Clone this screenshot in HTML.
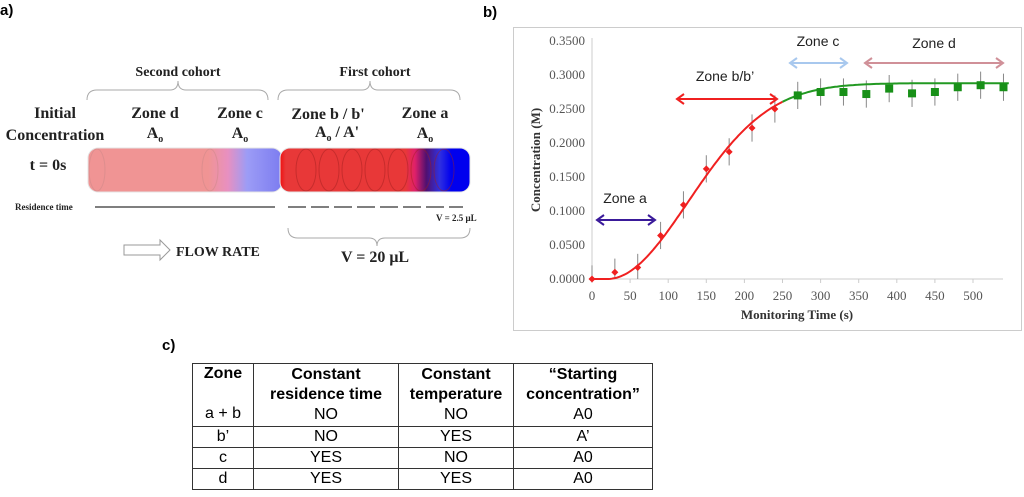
<!DOCTYPE html>
<html><head><meta charset="utf-8"><style>
html,body{margin:0;padding:0;background:#fff;}
body{width:1024px;height:497px;position:relative;overflow:hidden;}
svg{position:absolute;left:0;top:0;}
td{border:1.5px solid #333;text-align:center;padding:0;font-family:"Liberation Sans",sans-serif;font-size:16px;line-height:20px;}
</style></head><body>
<svg width="1024" height="497" xmlns="http://www.w3.org/2000/svg">
<defs>
<linearGradient id="gl" x1="0" x2="1">
<stop offset="0" stop-color="#f09494"/><stop offset="0.62" stop-color="#f09494"/>
<stop offset="0.72" stop-color="#e890c0"/><stop offset="0.82" stop-color="#9c9cf6"/><stop offset="1" stop-color="#7c7cf0"/>
</linearGradient>
<linearGradient id="gr" x1="0" x2="1">
<stop offset="0" stop-color="#f01010"/><stop offset="0.03" stop-color="#e83838"/><stop offset="0.66" stop-color="#e83838"/>
<stop offset="0.71" stop-color="#e0206a"/><stop offset="0.77" stop-color="#501070"/><stop offset="0.84" stop-color="#3030e0"/><stop offset="0.9" stop-color="#0000ee"/><stop offset="1" stop-color="#0000ee"/>
</linearGradient>
</defs>
<g font-family="Liberation Sans,sans-serif" font-weight="bold" font-size="15">
<text x="0" y="15">a)</text><text x="483" y="17">b)</text><text x="162" y="350">c)</text></g>
<g font-family="Liberation Serif,serif" font-weight="bold" fill="#222">
<text x="178" y="76" font-size="14" text-anchor="middle">Second cohort</text>
<text x="375" y="76" font-size="14" text-anchor="middle">First  cohort</text>
<path d="M87,100 Q87,90 97,90 L170,90 Q178,90 178,81 Q178,90 186,90 L258,90 Q268,90 268,100" fill="none" stroke="#aaa"/>
<path d="M278,100 Q278,90 288,90 L362,90 Q370,90 370,81 Q370,90 378,90 L450,90 Q460,90 460,100" fill="none" stroke="#aaa"/>
<text x="55" y="118" font-size="16" text-anchor="middle">Initial</text>
<text x="55" y="140" font-size="16" text-anchor="middle">Concentration</text>
<text x="155" y="118" font-size="16" text-anchor="middle">Zone d</text>
<text x="155" y="138" font-size="16" text-anchor="middle">A<tspan font-size="10" dy="4">o</tspan></text>
<text x="240" y="118" font-size="16" text-anchor="middle">Zone c</text>
<text x="240" y="138" font-size="16" text-anchor="middle">A<tspan font-size="10" dy="4">o</tspan></text>
<text x="328" y="119" font-size="16" text-anchor="middle">Zone b / b'</text>
<text x="337" y="137" font-size="16" text-anchor="middle">A<tspan font-size="10" dy="4">o</tspan><tspan dy="-4"> / A'</tspan></text>
<text x="425" y="118" font-size="16" text-anchor="middle">Zone a</text>
<text x="425" y="138" font-size="16" text-anchor="middle">A<tspan font-size="10" dy="4">o</tspan></text>
<text x="48" y="170" font-size="16" text-anchor="middle">t = 0s</text>
<rect x="88" y="148" width="194" height="44" rx="10" fill="url(#gl)" stroke="#e4e4e4"/>
<rect x="280" y="148" width="190" height="44" rx="10" fill="url(#gr)" stroke="#e4e4e4"/>
<g fill="none" stroke="#a02020" stroke-opacity="0.45">
<ellipse cx="306" cy="170" rx="10" ry="21"/><ellipse cx="329" cy="170" rx="10" ry="21"/><ellipse cx="352" cy="170" rx="10" ry="21"/><ellipse cx="375" cy="170" rx="10" ry="21"/><ellipse cx="398" cy="170" rx="10" ry="21"/><ellipse cx="421" cy="170" rx="10" ry="21"/><ellipse cx="444" cy="170" rx="10" ry="21"/>
</g>
<g fill="none" stroke="#c88" stroke-opacity="0.5"><ellipse cx="97" cy="170" rx="8" ry="21"/><ellipse cx="210" cy="170" rx="8" ry="21"/></g>
<text x="15" y="210" font-size="9">Residence time</text>
<line x1="95" y1="207" x2="275" y2="207" stroke="#333" stroke-width="1.2"/>
<line x1="288" y1="207" x2="463" y2="207" stroke="#333" stroke-width="1.2" stroke-dasharray="18,5"/>
<text x="436" y="221" font-size="9">V = 2.5 μL</text>
<path d="M288,228 Q288,238 298,238 L369,238 Q377,238 377,246 Q377,238 385,238 L460,238 Q470,238 470,228" fill="none" stroke="#aaa"/>
<text x="375" y="262" font-size="16" text-anchor="middle">V = 20 μL</text>
<path d="M124,245 L160,245 L160,240 L170,250 L160,260 L160,255 L124,255 Z" fill="#fff" stroke="#999"/>
<text x="176" y="256" font-size="14">FLOW RATE</text>
</g>
<rect x="513.5" y="27.5" width="508" height="303" fill="#fff" stroke="#ccc"/>
<g id="plot"></g>
<g font-family="Liberation Sans,sans-serif" font-size="14" fill="#222">
<text x="625" y="203" text-anchor="middle">Zone a</text>
<text x="725" y="81" text-anchor="middle">Zone b/b’</text>
<text x="818" y="46" text-anchor="middle">Zone c</text>
<text x="934" y="48" text-anchor="middle">Zone d</text>
</g>
</svg>
<table style="position:absolute;left:192px;top:363px;border-collapse:collapse;width:461px;">
<tr><td style="width:60px;vertical-align:top;font-weight:bold;height:62px">Zone<br><br><span style="font-weight:normal">a + b</span></td>
<td style="width:144px;font-weight:bold">Constant<br>residence time<br><span style="font-weight:normal">NO</span></td>
<td style="width:114px;font-weight:bold">Constant<br>temperature<br><span style="font-weight:normal">NO</span></td>
<td style="font-weight:bold">“Starting<br>concentration”<br><span style="font-weight:normal">A0</span></td></tr>
<tr><td>b’</td><td>NO</td><td>YES</td><td>A’</td></tr>
<tr><td>c</td><td>YES</td><td>NO</td><td>A0</td></tr>
<tr><td>d</td><td>YES</td><td>YES</td><td>A0</td></tr>
</table>
<script>
(function(){
var g=document.getElementById('plot'),s='';
function X(t){return 592+t*0.762;}function Y(v){return 279-v*680;}
s+='<g font-family="Liberation Serif,serif" font-size="13" fill="#555">';
for(var i=0;i<=7;i++){var v=i*0.05;s+='<text x="585" y="'+(Y(v)+4)+'" text-anchor="end">'+v.toFixed(4)+'</text>';}
for(var t=0;t<=500;t+=50){s+='<text x="'+X(t)+'" y="300" text-anchor="middle">'+t+'</text>';}
s+='</g>';
s+='<line x1="592" y1="38" x2="592" y2="279" stroke="#ccc"/><line x1="592" y1="279" x2="1003" y2="279" stroke="#ccc"/>';
for(var t=0;t<=500;t+=50)s+='<line x1="'+X(t)+'" y1="279" x2="'+X(t)+'" y2="283" stroke="#ccc"/>';
s+='<text x="797" y="319" font-family="Liberation Serif,serif" font-weight="bold" font-size="13" fill="#333" text-anchor="middle">Monitoring Time (s)</text>';
s+='<text transform="translate(540,160) rotate(-90)" font-family="Liberation Serif,serif" font-weight="bold" font-size="13" fill="#333" text-anchor="middle">Concentration (M)</text>';
function f(t){var u=Math.max(0,t-20)/150;return 0.288*(1-Math.exp(-u*u));}
var p1='',p2='';
for(var t=0;t<=250;t+=2)p1+=(t?'L':'M')+X(t).toFixed(1)+','+Y(f(t)).toFixed(1);
for(var t=250;t<=547;t+=3)p2+=(t>250?'L':'M')+X(t).toFixed(1)+','+Y(f(t)).toFixed(1);
var r=[0,.01,.017,.064,.109,.162,.187,.222,.25],gr=[.27,.275,.275,.272,.28,.273,.275,.282,.285,.282];
for(var i=0;i<r.length;i++){var x=X(i*30);s+='<line x1="'+x+'" y1="'+Y(r[i]+.02)+'" x2="'+x+'" y2="'+Math.min(279,Y(r[i]-.02))+'" stroke="#888"/>';}
for(var i=0;i<gr.length;i++){var x=X(270+i*30);s+='<line x1="'+x+'" y1="'+Y(gr[i]+.02)+'" x2="'+x+'" y2="'+Y(gr[i]-.02)+'" stroke="#888"/>';}
s+='<path d="'+p1+'" fill="none" stroke="#f02020" stroke-width="2"/><path d="'+p2+'" fill="none" stroke="#229922" stroke-width="2"/>';
for(var i=0;i<r.length;i++){var x=X(i*30),y=Y(r[i]);s+='<path d="M'+x+','+(y-3.5)+'L'+(x+3.5)+','+y+'L'+x+','+(y+3.5)+'L'+(x-3.5)+','+y+'Z" fill="#f02020"/>';}
for(var i=0;i<gr.length;i++){var x=X(270+i*30),y=Y(gr[i]);s+='<rect x="'+(x-4)+'" y="'+(y-4)+'" width="8" height="8" fill="#189018"/>';}
function arr(x1,x2,y,c){return '<path d="M'+(x1+2)+','+y+'L'+(x2-2)+','+y+'M'+(x1+7)+','+(y-5)+'L'+x1+','+y+'L'+(x1+7)+','+(y+5)+'M'+(x2-7)+','+(y-5)+'L'+x2+','+y+'L'+(x2-7)+','+(y+5)+'" fill="none" stroke="'+c+'" stroke-width="2"/>';}
s+=arr(597,655,220,'#3a1a9a')+arr(677,777,99,'#f02020')+arr(790,847,63,'#a8c8ee')+arr(865,1003,63,'#d09098');
g.innerHTML=s;
})();
</script>
</body></html>
